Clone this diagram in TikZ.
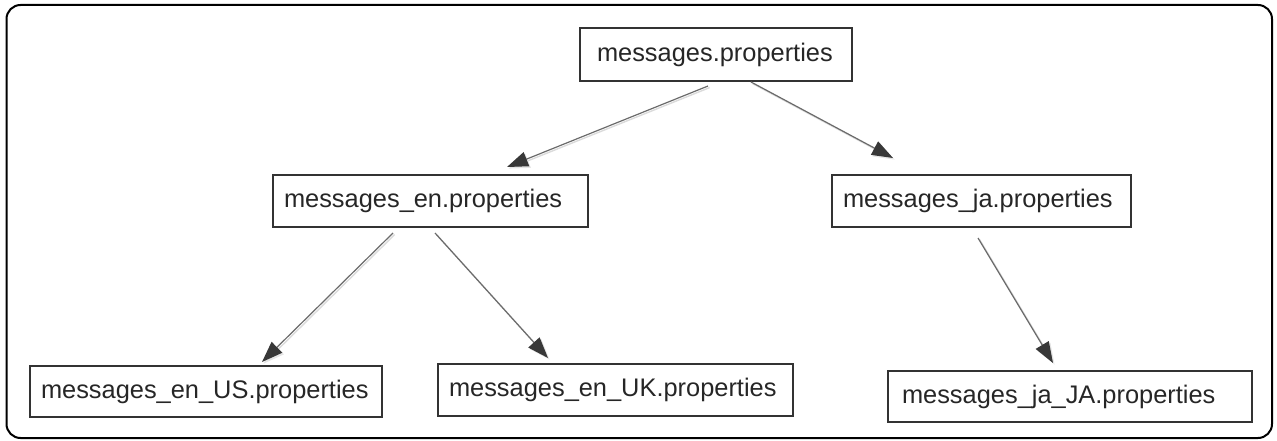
\documentclass[tikz,border=0pt]{standalone}
\usepackage{fontspec}
\setmainfont{Liberation Sans}
\usetikzlibrary{arrows.meta}

\tikzset{
  propbox/.style={draw=black!80, line width=1.4pt, rectangle, anchor=north west,
    align=left, inner ysep=0pt, outer sep=0pt,
    font=\fontsize{25.4}{30}\selectfont, text=black!85},
  arr/.style={draw=black!58, line width=1.2pt,
    -{Triangle[length=21pt, width=15pt, color=black!78, fill=black!78]}},
  arrshadow/.style={draw=black!14, line width=1.4pt,
    -{Triangle[length=21pt, width=15pt, color=black!10, fill=black!10]}},
  frame/.style={draw=black, line width=2pt, rounded corners=14pt}
}

% connector with a soft drop shadow
\newcommand{\linkarrow}[2]{%
  \draw[arrshadow, transform canvas={xshift=1.6pt, yshift=-1.6pt}] #1 -- #2;
  \draw[arr] #1 -- #2;}

\begin{document}
\begin{tikzpicture}[x=1pt, y=-1pt]
  \useasboundingbox (0,0) rectangle (1277,441);
  \draw[frame] (6.5,5) rectangle (1272,438);

  % property files
  \node[propbox, text width=238pt, inner xsep=17pt, minimum height=53pt] (base) at (580,28) {messages.properties};
  \node[propbox, text width=293pt, inner xsep=11pt, minimum height=52pt] (en) at (273,175) {messages\_en.properties};
  \node[propbox, text width=277pt, inner xsep=11pt, minimum height=52pt] (ja) at (832,175) {messages\_ja.properties};
  \node[propbox, text width=330pt, inner xsep=11pt, minimum height=51pt] (enus) at (30,366) {messages\_en\_US.properties};
  \node[propbox, text width=333pt, inner xsep=11pt, minimum height=52pt] (enuk) at (438,364) {messages\_en\_UK.properties};
  \node[propbox, text width=336pt, inner xsep=14pt, minimum height=51pt] (jaja) at (888,371) {messages\_ja\_JA.properties};

  % inheritance arrows
  \linkarrow{([xshift=-8pt, yshift=-5pt]base.south)}{([xshift=76.5pt, yshift=8pt]en.north)}
  \linkarrow{([xshift=35pt, yshift=-1pt]base.south)}{([xshift=-88.5pt, yshift=17pt]ja.north)}
  \linkarrow{([xshift=-37.5pt, yshift=-6pt]en.south)}{([xshift=56pt, yshift=4pt]enus.north)}
  \linkarrow{([xshift=4.5pt, yshift=-6pt]en.south)}{([xshift=-67.5pt, yshift=6pt]enuk.north)}
  \linkarrow{([xshift=-3.5pt, yshift=-11pt]ja.south)}{([xshift=-17pt, yshift=8pt]jaja.north)}
\end{tikzpicture}
\end{document}
